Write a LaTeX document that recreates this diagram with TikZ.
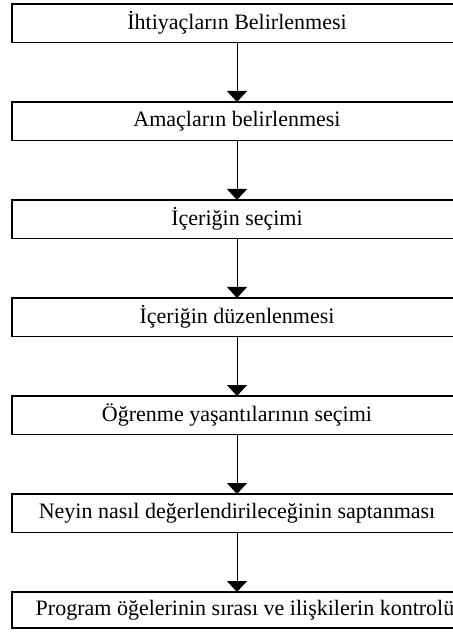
\documentclass[tikz,border=0pt]{standalone}
\usepackage{fontspec}
\setmainfont{Liberation Serif}
\usetikzlibrary{positioning,arrows.meta}

\tikzset{stepbox/.style={draw, line width=0.7pt, minimum width=225pt, minimum height=19.25pt,
        inner sep=2pt, outer sep=0pt}}

\begin{document}
\begin{tikzpicture}[font=\fontsize{11pt}{13pt}\selectfont, node distance=29.75pt]
\useasboundingbox (0,0) rectangle (226pt,-317.5pt);
\node[stepbox, anchor=north west] (s1) at (6pt,-2pt) {İhtiyaçların Belirlenmesi};
\node[stepbox, below=of s1] (s2) {Amaçların belirlenmesi};
\node[stepbox, below=of s2] (s3) {İçeriğin seçimi};
\node[stepbox, below=of s3] (s4) {İçeriğin düzenlenmesi};
\node[stepbox, below=of s4] (s5) {Öğrenme yaşantılarının seçimi};
\node[stepbox, below=of s5] (s6) {Neyin nasıl değerlendirileceğinin saptanması};
\node[stepbox, below=of s6, minimum height=18pt] (s7) {\hspace*{8pt}Program öğelerinin sırası ve ilişkilerin kontrolü};

    \foreach \i [evaluate=\i as \ni using {int(\i+1)}] in {1,...,6}
    \draw [-{Triangle[width=10pt,length=5.5pt]}, line width=0.5pt] (s\i.south)--(s\ni.north);

\end{tikzpicture}
\end{document}
